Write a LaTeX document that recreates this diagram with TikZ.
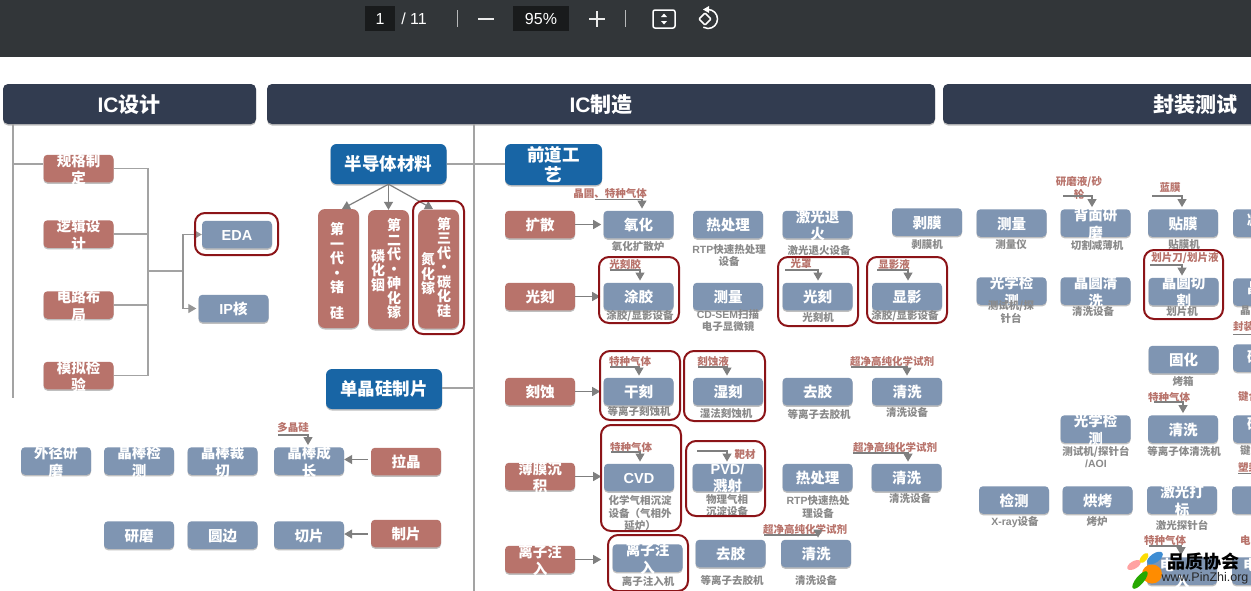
\documentclass[tikz,border=0pt]{standalone}
\usepackage{fontspec}
\setmainfont{Noto Sans CJK SC}
\newfontfamily\latinf{Liberation Sans}
\usetikzlibrary{arrows.meta,shadows,calc}
\definecolor{tbar}{HTML}{323639}
\definecolor{tfield}{HTML}{191B1C}
\definecolor{hdr}{HTML}{323C50}
\definecolor{bluebx}{HTML}{7F95B2}
\definecolor{redbx}{HTML}{B8736B}
\definecolor{deepb}{HTML}{1865A5}
\definecolor{framec}{HTML}{8C1418}
\definecolor{linec}{HTML}{A3A3A3}
\definecolor{arrc}{HTML}{7F7F7F}
\definecolor{capc}{HTML}{8A8A8A}
\newcounter{capn}
\tikzset{
  softsh/.style={drop shadow={shadow xshift=0pt,shadow yshift=-1.5pt,opacity=.25,fill=black}},
  bxbase/.style={rounded corners=4pt,minimum width=70pt,minimum height=27.5pt,inner sep=0pt,softsh},
  bluebox/.style={bxbase,fill=bluebx},
  redbox/.style={bxbase,fill=redbx},
  hdrbox/.style={rounded corners=5pt,fill=hdr,inner sep=0pt,minimum height=40pt,softsh},
  deepbox/.style={rounded corners=6pt,fill=deepb,inner sep=0pt,minimum width=116pt,minimum height=40pt,softsh},
  tallbox/.style={rounded corners=7pt,fill=redbx,inner sep=0pt,minimum width=41pt,minimum height=119pt,softsh},
  boxt/.style={text=white,font=\fontsize{14.5}{17.5}\selectfont\bfseries,align=center,inner sep=0pt,yshift=-0.8pt},
  hdrt/.style={text=white,font=\fontsize{21}{24}\selectfont\bfseries,inner sep=0pt},
  deept/.style={text=white,font=\fontsize{17.5}{20}\selectfont\bfseries,align=center,inner sep=0pt},
  tallt/.style={text=white,font=\fontsize{14}{14.5}\selectfont\bfseries,align=center,inner sep=0pt},
  captxt/.style={text=capc,font=\fontsize{10.5}{12.5}\selectfont\bfseries,align=center,inner sep=0pt},
  mattxt/.style={text=redbx,font=\fontsize{10.5}{12.5}\selectfont\bfseries,align=center,inner sep=0pt},
  tbtxt/.style={text=white,font=\latinf\fontsize{16}{18}\selectfont,inner sep=0pt},
  conn/.style={draw=linec,line width=1.2pt},
  flow/.style={draw=arrc,line width=1.2pt,-{Triangle[length=8pt,width=9pt]}},
  feed/.style={draw=arrc,line width=1.1pt,-{Triangle[length=8pt,width=9pt]}},
  framed/.style={draw=framec,line width=2pt,rounded corners=10pt},
}
\newcommand\bb[4]{\node[bluebox] (#1) at (#2,#3) {}; \node[boxt] (#1-t) at (#1) {#4};}
\newcommand\rb[4]{\node[redbox] (#1) at (#2,#3) {}; \node[boxt] (#1-t) at (#1) {#4};}
\newcommand\capt[3]{\stepcounter{capn}\node[captxt] (cap\thecapn) at (#1,#2) {#3};}
\newcommand\fd[8]{\node[mattxt] (#1) at (#2,#3) {#4};
  \coordinate (#1-s) at (#5,#7);
  \path (#6,0 |- #8.north) ++(0,-2) coordinate (#1-e);
  \draw[feed] (#1-s) -| (#1-e);}
\begin{document}
\begin{tikzpicture}[x=1pt,y=-1pt]
\useasboundingbox (0,0) rectangle (1251,590);
\clip (0,0) rectangle (1251,590);
\fill[white] (0,0) rectangle (1251,590);
% toolbar
\fill[tbar] (0,0) rectangle (1251,57);
\fill[tfield] (365,6) rectangle (395,31);
\fill[tfield] (513,6) rectangle (569,31);
\node[tbtxt] (pg) at (380,18.5) {1};
\node[tbtxt] (pgn) at (414,18.5) {/ 11};
\node[tbtxt] (zm) at (541,18.5) {95\%};
\draw[white!65!tbar,line width=1pt] (457,10) -- (457,27) (625,10) -- (625,27);
\draw[white!90!tbar,line width=1.6pt] (478,19) -- (494,19) (589,19) -- (605,19) (597,11) -- (597,27);
\draw[white,line width=1.5pt,rounded corners=2pt] (653,10) rectangle (675,28);
\fill[white] (661,17) -- (664,13.5) -- (667,17) -- cycle (661,21) -- (664,24.5) -- (667,21) -- cycle;
\draw[white,line width=1.5pt,rounded corners=1pt] (699,19) -- (705,13) -- (711,19) -- (705,25) -- cycle;
\draw[white,line width=1.5pt] (708,9.5) arc (-90:120:9.5);
\fill[white] (703,9.5) -- (709,6) -- (709,13) -- cycle;
% headers
\node[hdrbox,minimum width=253pt] (h1) at (129.5,104) {};
\node[hdrt] (h1-t) at (129,104.5) {{\latinf\bfseries IC}设计};
\node[hdrbox,minimum width=668pt] (h2) at (601,104) {};
\node[hdrt] (h2-t) at (601,104.5) {{\latinf\bfseries IC}制造};
\node[hdrbox,minimum width=330pt] (h3) at (1108,104) {};
\node[hdrt] (h3-t) at (1195,104.5) {封装测试};
% IC design
\coordinate (tr0) at (13,124);
\coordinate (tr1) at (13,398);
\coordinate (trb) at (13,164);
\draw[conn] (tr0) -- (tr1);
\rb{d1}{78.5}{168.5}{规格制\\定}
\rb{d2}{78.5}{234}{逻辑设\\计}
\rb{d3}{78.5}{305}{电路布\\局}
\rb{d4}{78.5}{375.5}{模拟检\\验}
\draw[conn] (trb) -- (trb -| d1.west);
\bb{eda}{237}{234.5}{\latinf\bfseries EDA}
\bb{ip}{233.5}{308.5}{{\latinf\bfseries IP}核}
\coordinate (j1) at (148,271);
\coordinate (j2) at (183,271);
\draw[conn] (d1.east) -| (j1);
\draw[conn] (d2.east) -| (j1);
\draw[conn] (d3.east) -| (j1);
\draw[conn] (d4.east) -| (j1);
\draw[conn] (j1) -- (j2);
\draw[flow,draw=linec!60!arrc] (j2) |- (eda.west);
\draw[flow,draw=linec!60!arrc,shorten >=2pt] (j2) |- (ip.west);
\draw[framed] (195,213) rectangle (278,255);
% materials
\coordinate (vt) at (474,124);
\coordinate (vb) at (474,592);
\draw[conn] (vt) -- (vb);
\node[deepbox] (mat) at (388.5,164) {};
\node[deept] (mat-t) at (388.5,164) {半导体材料};
\node[deepbox] (sil) at (384,389) {};
\node[deept] (sil-t) at (384,389) {单晶硅制片};
\node[deepbox,minimum width=97pt,minimum height=41pt] (fe) at (553.5,164.5) {};
\node[deept] (fe-t) at (553.5,164.5) {前道工\\艺};
\coordinate (b1) at (474,164);
\coordinate (b2) at (474,388);
\draw[conn] (b1 -| mat.east) -- (b1);
\draw[conn] (b1) -- (b1 -| fe.west);
\draw[conn] (b2 -| sil.east) -- (b2);
\node[tallbox] (g1) at (338.5,268.5) {};
\node[tallbox] (g2) at (388.5,269.5) {};
\node[tallbox] (g3) at (438.5,269) {};
\coordinate (g1-a) at (342,209);
\coordinate (g3-a) at (433,209);
\draw[flow] (mat.south) -- (g1-a);
\draw[flow] (mat.south) -- (g2.north);
\draw[flow] (mat.south) -- (g3-a);
\node[tallt] (g1-t) at (337,271) {第\\一\\代\\·\\锗\\[11.5pt]硅};
\node[tallt] (g2-t) at (394,269) {第\\二\\代\\·\\砷\\化\\镓};
\node[tallt] (g2-u) at (378,270.5) {磷\\化\\铟};
\node[tallt] (g3-t) at (444,267) {第\\三\\代\\·\\碳\\化\\硅};
\node[tallt] (g3-u) at (428,274) {氮\\化\\镓};
\draw[framed] (413,201) rectangle (464,334);
% silicon wafers
\bb{s1}{56}{461}{外径研\\磨}
\bb{s2}{139}{461}{晶棒检\\测}
\bb{s3}{222.5}{461}{晶棒裁\\切}
\bb{s4}{309}{461}{晶棒成\\长}
\rb{s5}{406}{461.5}{拉晶}
\draw[flow] (s5.west) ++(-3,-2) coordinate (s5-o) -- (s5-o -| s4.east);
\fd{m0}{293}{427}{多晶硅}{278}{308}{435}{s4}
\bb{w1}{139}{535}{研磨}
\bb{w2}{222.5}{535}{圆边}
\bb{w3}{309}{535}{切片}
\rb{w4}{406}{533.5}{制片}
\draw[flow] (w4.west) ++(-3,0.5) coordinate (w4-o) -- (w4-o -| w3.east);
% front-end rows
\rb{p1}{540}{224.5}{扩散}
\bb{p1a}{638.5}{224.5}{氧化}
\bb{p1b}{728}{224.5}{热处理}
\bb{p1c}{817.5}{224.5}{激光退\\火}
\bb{p1d}{927}{222}{剥膜}
\draw[flow] (p1.east) -- ++(26,0);
\capt{638}{247}{氧化扩散炉}
\capt{729}{255.5}{{\latinf\bfseries RTP}快速热处理\\设备}
\capt{819}{250}{激光退火设备}
\capt{927}{244.5}{剥膜机}
\fd{m1}{610}{193.5}{晶圆、特种气体}{595}{642}{199.5}{p1a}
\rb{p2}{540}{296.5}{光刻}
\bb{p2a}{638.5}{296.5}{涂胶}
\bb{p2b}{728}{296.5}{测量}
\bb{p2c}{817.5}{296.5}{光刻}
\bb{p2d}{907}{296.5}{显影}
\draw[flow] (p2.east) -- ++(25,0);
\capt{640}{316}{涂胶/显影设备}
\capt{728}{320.5}{{\latinf\bfseries CD-SEM}扫描\\电子显微镜}
\capt{818}{317}{光刻机}
\capt{905}{316}{涂胶/显影设备}
\fd{m2}{625}{264}{光刻胶}{610}{640}{270}{p2a}
\fd{m3}{801}{264}{光罩}{785}{818}{270}{p2c}
\fd{m4}{894}{264}{显影液}{877}{908}{270}{p2d}
\draw[framed] (599,257) rectangle (679,323);
\draw[framed] (778,257) rectangle (858,326);
\draw[framed] (867,257) rectangle (947,323);
\rb{p3}{540}{391.5}{刻蚀}
\bb{p3a}{638.5}{391.5}{干刻}
\bb{p3b}{728}{391.5}{湿刻}
\bb{p3c}{817.5}{391.5}{去胶}
\bb{p3d}{907}{391.5}{清洗}
\draw[flow] (p3.east) -- ++(25,0);
\capt{639}{411}{等离子刻蚀机}
\capt{726}{413}{湿法刻蚀机}
\capt{819}{414}{等离子去胶机}
\capt{907}{412}{清洗设备}
\fd{m5}{630}{361}{特种气体}{610}{639}{367}{p3a}
\fd{m6}{713}{361}{刻蚀液}{698}{727}{367}{p3b}
\fd{m7}{892}{361}{超净高纯化学试剂}{851}{907}{367}{p3d}
\draw[framed] (600,351) rectangle (680,420);
\draw[framed] (684,351) rectangle (765,421);
\rb{p4}{540}{476.5}{薄膜沉\\积}
\bb{p4a}{639}{477.5}{{\latinf\bfseries CVD}}
\bb{p4b}{727.5}{477.5}{{\latinf\bfseries PVD/}\\溅射}
\bb{p4c}{817.5}{477.5}{热处理}
\bb{p4d}{906.5}{477.5}{清洗}
\draw[flow] (p4.east) -- ++(26,0);
\capt{640}{513}{化学气相沉淀\\设备（气相外\\延炉）}
\capt{727}{505.5}{物理气相\\沉淀设备}
\capt{818}{507}{{\latinf\bfseries RTP}快速热处\\理设备}
\capt{910}{498.5}{清洗设备}
\fd{m8}{631}{447}{特种气体}{611}{640}{452}{p4a}
\node[mattxt] (m9) at (745,455) {靶材};
\coordinate (m9-s) at (697,451);
\path (727,0 |- p4b.north) ++(0,-2) coordinate (m9-e);
\draw[feed] (m9-s) -| (m9-e);
\fd{m10}{895}{447}{超净高纯化学试剂}{853}{908}{453}{p4d}
\draw[framed] (601,425) rectangle (681,531);
\draw[framed] (686,441) rectangle (765,516);
\rb{p5}{540}{559.5}{离子注\\入}
\bb{p5a}{647.5}{558}{离子注\\入}
\bb{p5b}{730.5}{553.5}{去胶}
\bb{p5c}{816}{553.5}{清洗}
\draw[flow] (p5.east) -- ++(26,0);
\capt{648}{581}{离子注入机}
\capt{732}{580}{等离子去胶机}
\capt{816}{580}{清洗设备}
\fd{m11}{805}{529}{超净高纯化学试剂}{764}{818}{535}{p5c}
\draw[framed] (608,535) rectangle (688,591);
% packaging
\bb{q1}{1011.5}{223}{测量}
\bb{q2}{1095.5}{223}{背面研\\磨}
\bb{q3}{1183}{223}{贴膜}
\bb{q4}{1268}{223}{}
\capt{1011}{245}{测量仪}
\capt{1097}{246}{切割减薄机}
\capt{1184}{245}{贴膜机}
\fd{m12}{1079}{188}{研磨液/砂\\轮}{1063}{1092}{196}{q2}
\fd{m13}{1170}{188}{蓝膜}{1152}{1182}{196}{q3}
\bb{r1}{1011.5}{291}{光学检\\测}
\bb{r2}{1095.5}{291}{晶圆清\\洗}
\bb{r3}{1183.5}{291.5}{晶圆切\\割}
\bb{r4}{1268}{292}{}
\capt{1011}{312}{测试机/探\\针台}
\capt{1093}{311}{清洗设备}
\capt{1182}{312}{划片机}
\fd{m14}{1185}{258}{划片刀/划片液}{1150}{1182}{265}{r3}
\draw[framed] (1144,250) rectangle (1223,319);
\bb{t1}{1183.5}{359.5}{固化}
\bb{t2}{1268}{358}{}
\capt{1183}{381}{烤箱}
\bb{u1}{1095.5}{429}{光学检\\测}
\bb{u2}{1183}{429}{清洗}
\bb{u3}{1268}{429}{}
\capt{1096}{457}{测试机/探针台\\{\latinf\bfseries/AOI}}
\capt{1184}{451}{等离子体清洗机}
\fd{m15}{1169}{397}{特种气体}{1154}{1183}{402}{u2}
\bb{v1}{1014}{500}{检测}
\bb{v2}{1097.5}{500}{烘烤}
\bb{v3}{1182}{500}{激光打\\标}
\bb{v4}{1267}{500}{}
\capt{1015}{522}{{\latinf\bfseries X-ray}设备}
\capt{1097}{522}{烤炉}
\capt{1182}{525}{激光探针台}
\bb{x1}{1182}{571}{}
\bb{x2}{1267}{571}{}
\fd{m16}{1165}{540}{特种气体}{1149}{1181}{546}{x1}
% cropped texts on the right edge
\node[boxt,anchor=west] (qe) at (1247,219) {减};
\node[boxt,anchor=west] (re) at (1247,287) {晶};
\node[boxt,anchor=west] (te) at (1247,357) {研};
\node[boxt,anchor=west] (ue) at (1247,424) {研};
\node[boxt,anchor=west] (xe) at (1243,564) {电};
\node[boxt] (xa) at (1167,564) {电};
\node[boxt] (xb) at (1182,581) {入};
\node[captxt,anchor=west] (ca1) at (1240,311) {晶};
\node[mattxt,anchor=west] (ca2) at (1233,327) {封装};
\node[mattxt,anchor=west] (ca3) at (1238,397) {键合};
\node[captxt,anchor=west] (ca4) at (1240,451) {键合};
\node[mattxt,anchor=west] (ca5) at (1238,467) {塑封};
\node[mattxt,anchor=west] (ca6) at (1240,541) {电};
\coordinate (e1) at (1233,334);
\coordinate (e2) at (1238,473);
\draw[arrc,line width=1pt] (e1) -- ++(18,0);
\draw[arrc,line width=1pt] (e2) -- ++(13,0);
% watermark logo
\fill[pink!85!red,rotate around={30:(1134,565)}] (1134,565) ellipse (7.5 and 3.8);
\fill[yellow!80!orange,rotate around={50:(1144,558)}] (1144,558) ellipse (6 and 3);
\fill[cyan!60!blue!80!white,rotate around={35:(1155,558)}] (1155,558) ellipse (9 and 4.5);
\fill[orange!90!yellow] (1152,574) ellipse (10 and 9.5);
\fill[green!60!black!85!yellow,rotate around={50:(1140,580)}] (1140,580) ellipse (11 and 4);
\node[text=black,font=\fontsize{18}{20}\selectfont\bfseries,inner sep=0pt] (wm1) at (1203,562) {品质协会};
\node[text=black!85,font=\latinf\fontsize{12.5}{15}\selectfont,inner sep=0pt] (wm2) at (1205,578.5) {www.PinZhi.org};
\end{tikzpicture}
\end{document}
